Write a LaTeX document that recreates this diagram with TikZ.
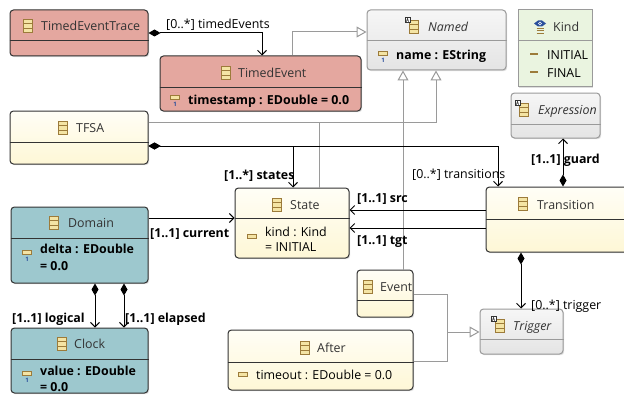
\documentclass[tikz,border=0pt]{standalone}
\usepackage{fontspec}
\setmainfont{Open Sans}
\usetikzlibrary{arrows.meta,fit,shadows,calc}
\definecolor{salmon}{HTML}{E4A79F}
\definecolor{tealc}{HTML}{9DC8CE}
\definecolor{ylwA}{HTML}{FFFEF6}
\definecolor{ylwB}{HTML}{FEF7D6}
\definecolor{gryA}{HTML}{F6F6F6}
\definecolor{gryB}{HTML}{E4E4E4}
\definecolor{kindc}{HTML}{EAF4E0}
\definecolor{edgec}{HTML}{333333}
\definecolor{gedge}{HTML}{9A9A9A}
\definecolor{icf}{HTML}{F4E4A4}
\definecolor{icd}{HTML}{9C7B3A}
\definecolor{txt}{HTML}{333333}
\definecolor{onec}{HTML}{2A4F9C}
\newcommand\dfont{\fontsize{12.4}{14}\selectfont}
\tikzset{
  box/.style={inner sep=0pt, draw=edgec, line width=1pt, rounded corners=3.5pt,
    drop shadow={opacity=0.25, shadow xshift=1.2pt, shadow yshift=-1.2pt}},
  redbox/.style={box, fill=salmon},
  tealbox/.style={box, fill=tealc},
  ylwbox/.style={box, top color=ylwA, bottom color=ylwB},
  grybox/.style={box, draw=gedge, top color=gryA, bottom color=gryB},
  kindbox/.style={box, draw=gedge, rounded corners=0pt, fill=kindc},
  divline/.style={draw=edgec, line width=1pt},
  gdivline/.style={draw=gedge, line width=1pt},
  lbl/.style={inner sep=0pt, anchor=west, text=txt, text height=9.9pt, text depth=1.6pt},
  att/.style={inner sep=0pt, anchor=west, text=black, font=\dfont\bfseries, text height=9.9pt, text depth=1.6pt},
  rlbl/.style={inner sep=0pt, anchor=west, text=black, text height=9.9pt, text depth=1.6pt},
  blbl/.style={rlbl, font=\dfont\bfseries},
  assoc/.style={draw=black, line width=1pt, -{Straight Barb[length=4.5pt,width=9pt]}},
  comp/.style={draw=black, line width=1pt, {Diamond[length=12pt,width=7pt]}-{Straight Barb[length=4.5pt,width=9pt]}},
  gen/.style={draw=gedge, line width=1pt, -{Triangle[open,length=10pt,width=11pt,fill=white]}},
  genl/.style={draw=gedge, line width=1pt},
  clsicon/.pic={
    \draw[icd,fill=icf,line width=0.7pt] (-4.5,-6.5) rectangle (4.5,6.5);
    \draw[icd,line width=0.7pt] (-4.5,-2.2) -- (4.5,-2.2) (-4.5,2.2) -- (4.5,2.2);},
  absicon/.pic={
    \draw[icd,fill=icf,line width=0.7pt] (-4.5,-6.5) rectangle (4.5,6.5);
    \draw[icd,line width=0.7pt] (-4.5,-2.2) -- (4.5,-2.2) (-4.5,2.2) -- (4.5,2.2);
    \draw[edgec,fill=white,line width=0.5pt] (-9,-9.5) rectangle (-4,-4.5);
    \draw[edgec,line width=0.5pt] (-7.7,-5.3) -- (-6.5,-8.7) -- (-5.3,-5.3) (-7.2,-6.6) -- (-5.8,-6.6);},
  atticon/.pic={
    \draw[icd,fill=icf,line width=0.7pt] (-4.5,-2.5) rectangle (4.5,1.5);},
  att1icon/.pic={
    \draw[icd,fill=icf,line width=0.7pt] (-4.5,-2.5) rectangle (4.5,1.5);
    \node[text=onec, font=\fontsize{6}{6}\selectfont\bfseries, inner sep=0pt] (-one) at (0,6.5) {1};},
  liticon/.pic={
    \draw[icd,line width=1.8pt] (-4,0) -- (4,0);},
  enumicon/.pic={
    \fill[onec] (-6,-3.5) -- (-2,-6.5) -- (2,-6.5) -- (6,-3.5) -- (2,-0.5) -- (-2,-0.5) -- cycle;
    \fill[white] (0,-3.5) circle (1.8pt);
    \fill[onec] (0,-3.5) circle (0.9pt);
    \draw[icd,line width=1pt] (-3.5,1.5) -- (3.5,1.5) (-3.5,4) -- (3.5,4) (-3.5,6.5) -- (3.5,6.5);},
}
\begin{document}
\begin{tikzpicture}[x=1pt,y=-1pt,font=\dfont]
\useasboundingbox[fill=white] (0,0) rectangle (624,396);

% ---------- boxes ----------
\node[redbox, fit={(10,10) (148,56)}] (tet) {};
\draw[divline] (tet.west |- 0,41) -- (tet.east |- 0,41);
\pic at (28,26) {clsicon};
\node[lbl] (tetn) at (41,26) {TimedEventTrace};

\node[redbox, fit={(160,56) (361,111)}] (tev) {};
\draw[divline] (tev.west |- 0,88) -- (tev.east |- 0,88);
\pic at (226,73) {clsicon};
\node[lbl] (tevn) at (238,73) {TimedEvent};
\pic (tevi) at (175,98) {att1icon};
\node[att] (teva) at (188,100) {timestamp : EDouble = 0.0};

\node[grybox, fit={(367,10) (506,70)}] (named) {};
\draw[gdivline] (named.west |- 0,41) -- (named.east |- 0,41);
\pic at (414,27) {absicon};
\node[lbl, font=\dfont\itshape] (namedn) at (428,27) {Named};
\pic (namedi) at (383,54) {att1icon};
\node[att] (nameda) at (396,55) {name : EString};

\node[kindbox, fit={(518,10) (592,87)}] (kind) {};
\draw[gdivline] (kind.west |- 0,41) -- (kind.east |- 0,41);
\pic at (540,27) {enumicon};
\node[lbl] (kindn) at (553,27) {Kind};
\pic at (534,54) {liticon};
\node[rlbl] (kl1) at (547,55) {INITIAL};
\pic at (534,72) {liticon};
\node[rlbl] (kl2) at (547,73) {FINAL};

\node[grybox, fit={(511,93) (600,138)}] (expr) {};
\draw[gdivline] (expr.west |- 0,124) -- (expr.east |- 0,124);
\pic at (524,110) {absicon};
\node[lbl, font=\dfont\itshape] (exprn) at (538,110) {Expression};

\node[ylwbox, fit={(10,111) (148,164)}] (tfsa) {};
\draw[divline] (tfsa.west |- 0,142) -- (tfsa.east |- 0,142);
\pic at (63,128) {clsicon};
\node[lbl] (tfsan) at (76,128) {TFSA};

\node[ylwbox, fit={(235,188) (349,258)}] (state) {};
\draw[divline] (state.west |- 0,218) -- (state.east |- 0,218);
\pic at (277,205) {clsicon};
\node[lbl] (staten) at (290,205) {State};
\pic at (252,237) {atticon};
\node[rlbl] (statea1) at (265,232) {kind : Kind};
\node[rlbl] (statea2) at (265,247) {= INITIAL};

\node[ylwbox, fit={(486,187) (630,252)}] (trans) {};
\draw[divline] (trans.west |- 0,219) -- (trans.east |- 0,219);
\pic at (523,204) {clsicon};
\node[lbl] (transn) at (537,205) {Transition};

\node[tealbox, fit={(11,207) (148,283)}] (domain) {};
\draw[divline] (domain.west |- 0,238) -- (domain.east |- 0,238);
\pic at (54,223) {clsicon};
\node[lbl] (domainn) at (68,223) {Domain};
\pic (domaini) at (27,253) {att1icon};
\node[att] (domaina1) at (40,249) {delta : EDouble};
\node[att] (domaina2) at (40,266) {= 0.0};

\node[tealbox, fit={(11,328) (148,393)}] (clock) {};
\draw[divline] (clock.west |- 0,359) -- (clock.east |- 0,359);
\pic at (62,344) {clsicon};
\node[lbl] (clockn) at (74,344) {Clock};
\pic (clocki) at (27,374) {att1icon};
\node[att] (clocka1) at (40,371) {value : EDouble};
\node[att] (clocka2) at (40,387) {= 0.0};

\node[ylwbox, fit={(357,270) (413,317)}] (event) {};
\draw[divline] (event.west |- 0,300) -- (event.east |- 0,300);
\pic at (368,287) {clsicon};
\node[lbl] (eventn) at (380,287) {Event};

\node[ylwbox, fit={(228,330) (413,390)}] (after) {};
\draw[divline] (after.west |- 0,362) -- (after.east |- 0,362);
\pic at (305,348) {clsicon};
\node[lbl] (aftern) at (317,348) {After};
\pic at (243,375) {atticon};
\node[rlbl] (aftera) at (256,375) {timeout : EDouble = 0.0};

\node[grybox, fit={(480,309) (563,354)}] (trig) {};
\draw[gdivline] (trig.west |- 0,339) -- (trig.east |- 0,339);
\pic at (500,326) {absicon};
\node[lbl, font=\dfont\itshape] (trign) at (513,326) {Trigger};

% ---------- generalizations ----------
\coordinate (j1) at (319,122);
\coordinate (j2) at (447,332);
\draw[gen] (tev.north -| 292,0) |- (named.west |- 0,32);
\draw[gen] (tfsa.east |- 0,122) -| (named.south -| 436,0);
\draw[genl] (state.north -| 319,0) -- (j1);
\draw[gen] (event.north -| 403,0) -- (named.south -| 403,0);
\draw[genl] (event.east |- 0,294) -| (j2);
\draw[genl] (after.east |- 0,361) -| (j2);
\draw[gen] (j2) -- (trig.west |- 0,332);

% ---------- associations ----------
\draw[comp] (tet.east |- 0,33) -| (tev.north -| 262,0);
\draw[comp] (tfsa.east |- 0,146) -| (trans.north -| 498,0);
\draw[comp] (tfsa.east |- 0,146) -| (state.north -| 293,0);
\draw[comp] (trans.north -| 563,0) -- (expr.south -| 563,0);
\draw[assoc] (trans.west |- 0,210) -- (state.east |- 0,210);
\draw[assoc] (trans.west |- 0,228) -- (state.east |- 0,228);
\draw[assoc] (domain.east |- 0,218) -- (state.west |- 0,218);
\draw[comp] (domain.south -| 95,0) -- (clock.north -| 95,0);
\draw[comp] (domain.south -| 124,0) -- (clock.north -| 124,0);
\draw[comp] (trans.south -| 521,0) -- (trig.north -| 521,0);

% ---------- labels ----------
\node[rlbl] (l1) at (166,24) {[0..*] timedEvents};
\node[blbl] (l2) at (224,175) {[1..*] states};
\node[rlbl] (l3) at (412,174) {[0..*] transitions};
\node[blbl] (l4) at (531,159) {[1..1] guard};
\node[blbl] (l5) at (357,198) {[1..1] src};
\node[blbl] (l6) at (357,240) {[1..1] tgt};
\node[blbl] (l7) at (150,233) {[1..1] current};
\node[blbl] (l8) at (12,318) {[1..1] logical};
\node[blbl] (l9) at (125,318) {[1..1] elapsed};
\node[rlbl] (l10) at (531,305) {[0..*] trigger};
\end{tikzpicture}
\end{document}
